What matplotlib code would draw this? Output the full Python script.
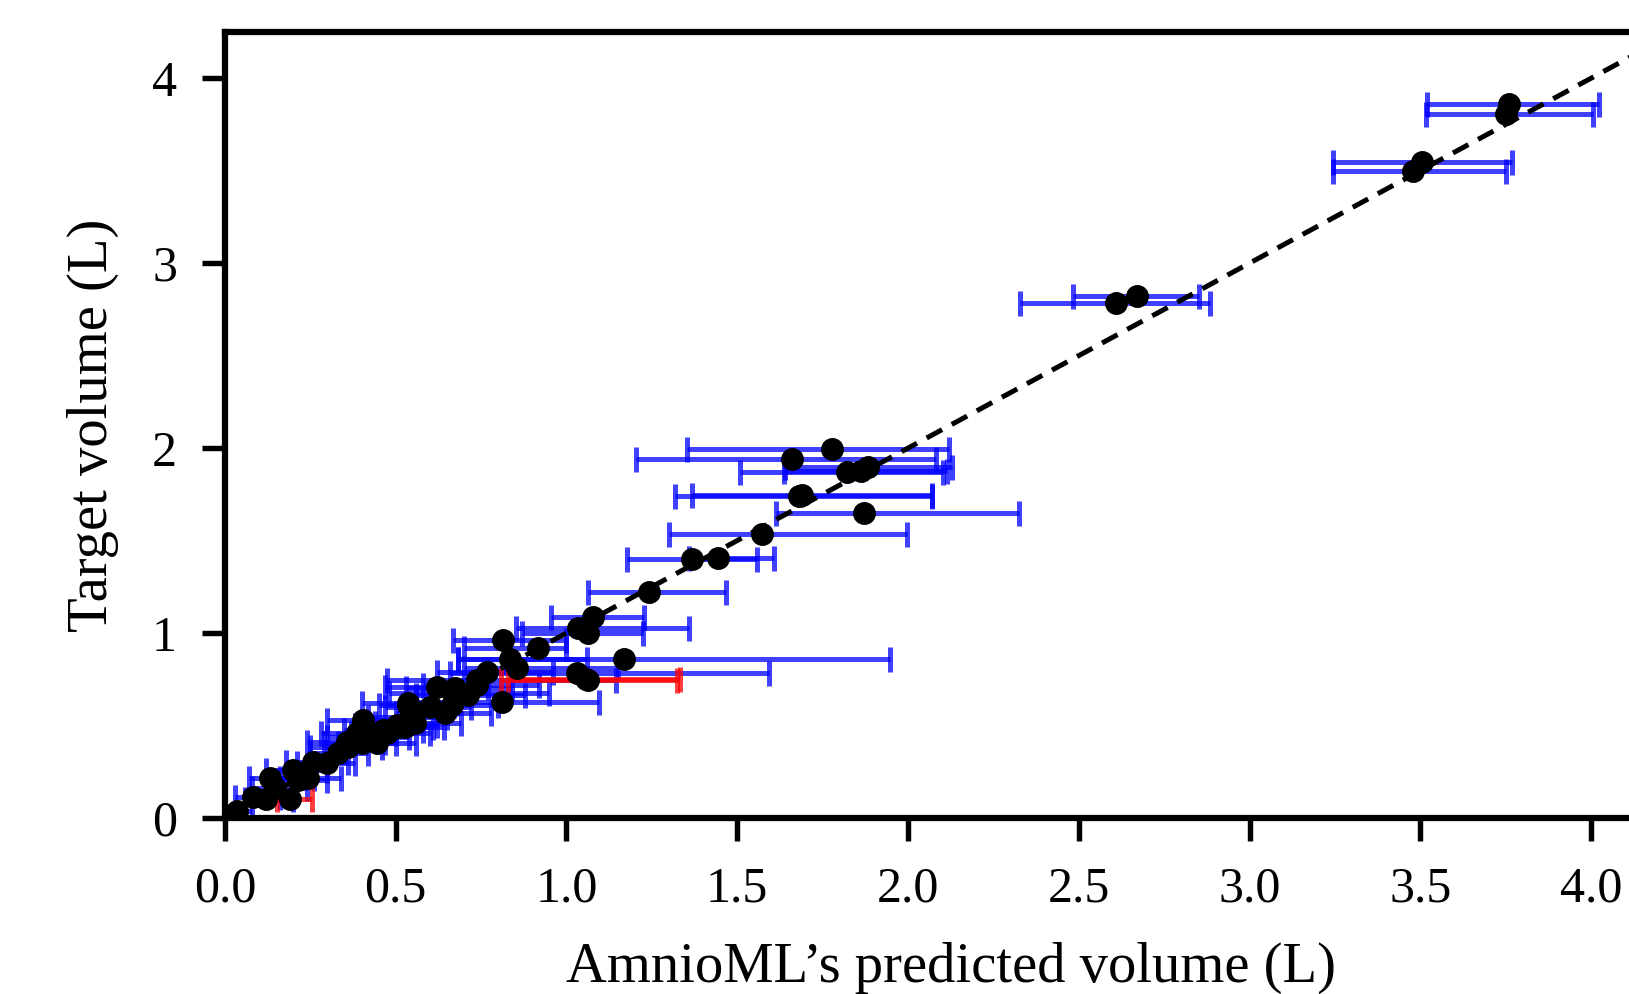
import matplotlib.pyplot as plt
import numpy as np

plt.rcParams['font.family'] = ['Liberation Serif', 'DejaVu Serif']

# predicted volume, target volume, lower / upper end of the predicted interval
pred = [3.761, 3.750, 3.504, 3.480, 2.670, 2.609,
        1.778, 1.659, 1.820, 1.862, 1.882, 1.681, 1.690, 1.872, 1.572,
        1.369, 1.444, 1.242, 1.079, 1.033, 1.064, 1.169, 1.032, 1.062, 1.058,
        0.034, 0.083, 0.120, 0.132, 0.146, 0.190, 0.200, 0.215, 0.244, 0.259,
        0.298, 0.361, 0.356, 0.405, 0.400, 0.444, 0.473, 0.508, 0.537, 0.542,
        0.556, 0.527, 0.386, 0.464, 0.503, 0.620, 0.644, 0.664, 0.673, 0.712,
        0.737, 0.766, 0.810, 0.815, 0.835, 0.854, 0.917, 0.737, 0.669, 0.537,
        0.330, 0.420, 0.600]
target = [3.863, 3.809, 3.548, 3.499, 2.822, 2.782,
          1.993, 1.940, 1.869, 1.877, 1.896, 1.741, 1.745, 1.651, 1.535,
          1.398, 1.407, 1.222, 1.085, 1.025, 1.002, 0.859, 0.782, 0.746, 0.752,
          0.040, 0.115, 0.101, 0.214, 0.160, 0.100, 0.259, 0.205, 0.214, 0.304,
          0.296, 0.386, 0.413, 0.530, 0.404, 0.404, 0.458, 0.494, 0.611, 0.548,
          0.512, 0.494, 0.458, 0.476, 0.503, 0.710, 0.566, 0.611, 0.701, 0.665,
          0.719, 0.787, 0.629, 0.962, 0.859, 0.809, 0.917, 0.746, 0.674, 0.620,
          0.350, 0.440, 0.600]
lower = [3.519, 3.517, 3.245, 3.245, 2.484, 2.328,
         1.352, 1.203, 1.509, 1.636, 1.641, 1.317, 1.367, 1.613, 1.301,
         1.176, 1.358, 1.064, 0.955, 0.851, 0.871, 0.683, 0.660, 0.807, 0.830,
         0.000, 0.030, 0.060, 0.070, 0.080, 0.151, 0.120, 0.140, 0.160, 0.180,
         0.210, 0.250, 0.240, 0.300, 0.290, 0.330, 0.370, 0.390, 0.450, 0.420,
         0.440, 0.410, 0.280, 0.350, 0.380, 0.470, 0.500, 0.520, 0.530, 0.560,
         0.580, 0.620, 0.560, 0.667, 0.683, 0.700, 0.700, 0.473, 0.480, 0.400,
         0.250, 0.300, 0.470]
upper = [4.023, 4.007, 3.768, 3.752, 2.852, 2.884,
         2.121, 2.082, 2.103, 2.113, 2.130, 2.071, 2.071, 2.326, 1.997,
         1.559, 1.608, 1.466, 1.227, 1.359, 1.223, 1.947, 1.593, 1.323, 1.332,
         0.080, 0.160, 0.200, 0.260, 0.240, 0.254, 0.300, 0.300, 0.340, 0.360,
         0.380, 0.460, 0.470, 0.570, 0.500, 0.560, 0.600, 0.640, 0.670, 0.650,
         0.690, 0.610, 0.500, 0.580, 0.620, 0.770, 0.780, 0.800, 0.840, 0.880,
         0.920, 0.960, 1.096, 0.998, 1.060, 1.150, 0.998, 1.145, 0.950, 0.680,
         0.420, 0.540, 0.720]

pred = np.array(pred)
target = np.array(target)
lower = np.array(lower)
upper = np.array(upper)
covered = (target >= lower) & (target <= upper)

fig = plt.figure(figsize=(1629 / 300, 994 / 300), dpi=300)
ax = fig.add_axes([0.1381, 0.1771, 0.891, 0.7907])

for mask, col in [(covered, 'blue'), (~covered, 'red')]:
    xerr = [pred[mask] - lower[mask], upper[mask] - pred[mask]]
    ax.errorbar(pred[mask], target[mask], xerr=xerr, fmt='none', ecolor=col,
                alpha=0.75, elinewidth=1.2, capsize=3.0, capthick=1.2, zorder=2)

ax.plot([0, 4.5], [0, 4.5], color='black', ls=(0, (3.5, 2.2)), lw=1.2, zorder=3)
ax.plot(pred, target, 'o', color='black', ms=4.5, zorder=4)

ax.set_xlim(0, 4.25)
ax.set_ylim(0, 4.25)
ax.set_xticks(np.arange(0, 4.01, 0.5))
ax.set_yticks([0, 1, 2, 3, 4])
ax.xaxis.set_major_formatter(plt.FormatStrFormatter('%.1f'))
ax.tick_params(direction='out', length=5.5, width=1.3, labelsize=12, pad=6)
for s in ax.spines.values():
    s.set_linewidth(1.5)

ax.set_xlabel('AmnioML\u2019s predicted volume (L)', fontsize=13.6, labelpad=7)
ax.set_ylabel('Target volume (L)', fontsize=13.6, labelpad=8)

plt.savefig('out.png', dpi=300)
